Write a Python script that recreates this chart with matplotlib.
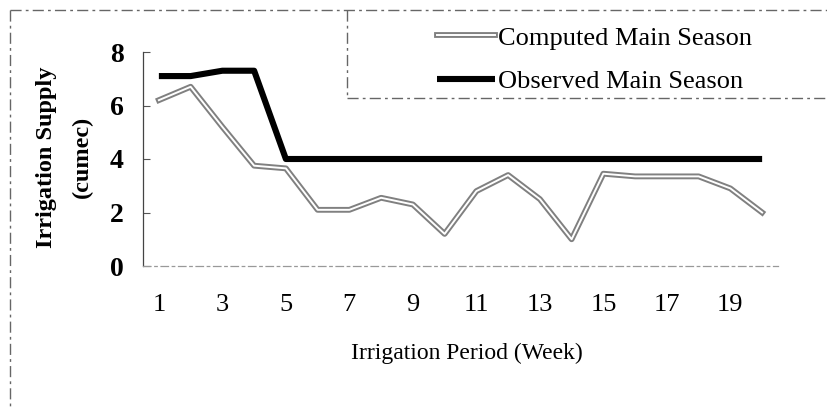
import matplotlib
matplotlib.use("Agg")
import matplotlib.pyplot as plt
import matplotlib.patheffects as pe
from matplotlib.lines import Line2D

# weekly irrigation supply (cumec)
weeks = list(range(1, 21))
computed = [6.2, 6.7, 5.2, 3.75, 3.65, 2.1, 2.1, 2.55, 2.3, 1.2,
            2.8, 3.4, 2.5, 1.0, 3.45, 3.35, 3.35, 3.35, 2.9, 2.0]
observed = [7.1, 7.1, 7.3, 7.3, 4.0, 4.0, 4.0, 4.0, 4.0, 4.0,
            4.0, 4.0, 4.0, 4.0, 4.0, 4.0, 4.0, 4.0, 4.0, 4.0]
xtick_labels = [1, 3, 5, 7, 9, 11, 13, 15, 17, 19]
yticks = [0, 2, 4, 6, 8]

plt.rcParams['font.family'] = ['Liberation Serif', 'DejaVu Serif']

W, H = 828, 409
fig = plt.figure(figsize=(W / 100, H / 100), dpi=100)
ax = fig.add_axes([143 / W, 1 - 266 / H, (778 - 143) / W, (266 - 52) / H])

ax.plot(weeks, computed, color='white', lw=1.4, label='Computed Main Season',
        path_effects=[pe.Stroke(linewidth=4.2, foreground='#808080'), pe.Normal()])
ax.plot(weeks, observed, color='black', lw=4.4, label='Observed Main Season',
        solid_capstyle='butt')

ax.set_xlim(0.5, 20.5)
ax.set_ylim(0, 8)
ax.set_xticks(xtick_labels)
ax.set_xticklabels([str(v) for v in xtick_labels], fontsize=19)
ax.set_yticks(yticks)
ax.set_yticklabels([str(v) for v in yticks], fontsize=20, fontweight='bold')
ax.tick_params(axis='y', direction='in', length=5, width=0.8, color='#555', pad=14)
ax.tick_params(axis='x', length=0, pad=20)

for s in ['top', 'right']:
    ax.spines[s].set_visible(False)
ax.spines['left'].set_color('#444')
ax.spines['left'].set_linewidth(0.9)
ax.spines['bottom'].set_color('#999')
ax.spines['bottom'].set_linewidth(0.9)
ax.spines['bottom'].set_linestyle((0, (6, 3, 2, 3)))

fig.text(467 / W, 1 - 353 / H, 'Irrigation Period (Week)', fontsize=17,
         ha='center', va='center')
fig.text(47 / W, 1 - 157 / H, 'Irrigation Supply', rotation=90, fontsize=17.5,
         fontweight='bold', ha='center', va='center')
fig.text(82 / W, 1 - 157 / H, '(cumec)', rotation=90, fontsize=17.5,
         fontweight='bold', ha='center', va='center')

# legend box and outer frame (dashed, as in the scanned figure)
frame_kw = dict(color='#666', lw=1.0, linestyle=(0, (8, 3, 2, 3)), transform=fig.transFigure)
fig.add_artist(Line2D([10 / W, 1], [1 - 10 / H, 1 - 10 / H], **frame_kw))
fig.add_artist(Line2D([10 / W, 10 / W], [1 - 10 / H, 0], **frame_kw))
fig.add_artist(Line2D([347 / W, 347 / W], [1 - 10 / H, 1 - 98 / H], **frame_kw))
fig.add_artist(Line2D([347 / W, 1], [1 - 98 / H, 1 - 98 / H], **frame_kw))

leg = fig.legend(loc='upper left', bbox_to_anchor=(424 / W, 1 - 13 / H),
                 frameon=False, fontsize=19, handlelength=2.2, handletextpad=0.1,
                 labelspacing=0.75, borderpad=0)

fig.savefig('out.png', dpi=100)
